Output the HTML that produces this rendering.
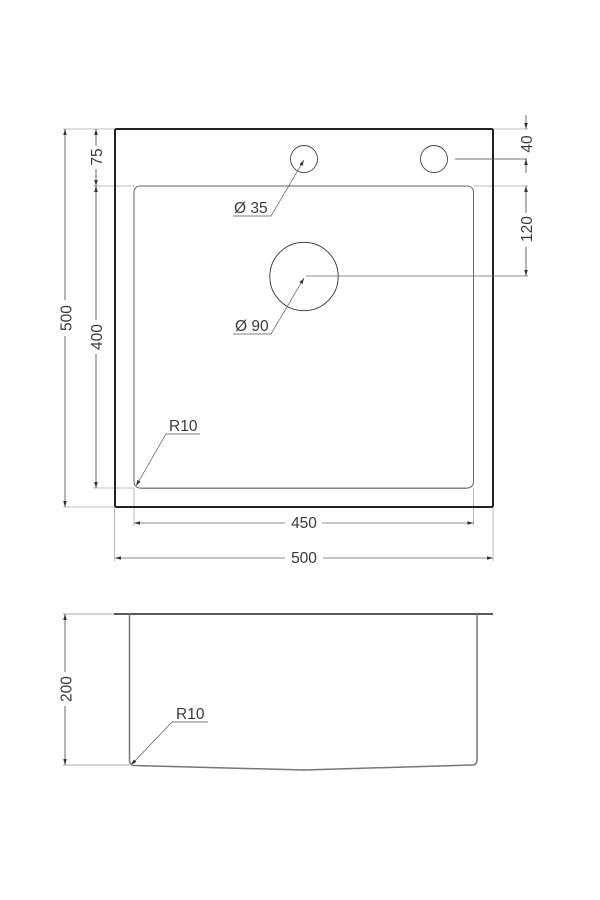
<!DOCTYPE html>
<html>
<head>
<meta charset="utf-8">
<style>
html,body{margin:0;padding:0;background:#fff;width:600px;height:900px;overflow:hidden}
svg{display:block}
text{font-family:"Liberation Sans",sans-serif;font-size:15.5px;fill:#3a3a3a}
</style>
</head>
<body>
<svg width="600" height="900" viewBox="0 0 600 900" xmlns="http://www.w3.org/2000/svg">
<rect width="600" height="900" fill="#fff"/>
<defs>
<marker id="a" viewBox="0 0 10 6" refX="10" refY="3" markerWidth="6" markerHeight="4" markerUnits="userSpaceOnUse" orient="auto-start-reverse"><path d="M0 0L10 3L0 6Z" fill="#333"/></marker>
</defs>

<!-- extension lines -->
<g fill="none" stroke="#aaa" stroke-width="0.8">
<path d="M63 129H115M63 507H115"/>
<path d="M93 186H134M473 186H528M93 488H134"/>
<path d="M493 129H528"/>
<path d="M134 488V526M473.5 488V526M114.500 507V561M493 507V561"/>
<path d="M63 614H114M63 765H130" stroke-width="1.2" stroke="#bbb"/>
</g>

<!-- top view -->
<rect x="115" y="129" width="378" height="378" rx="1.500" fill="none" stroke="#222" stroke-width="2"/>
<rect x="134" y="186" width="339.500" height="302" rx="6" fill="none" stroke="#666" stroke-width="1"/>
<path d="M140 488.300H467" fill="none" stroke="#888" stroke-width="1.400"/>
<circle cx="304" cy="159" r="13.500" fill="none" stroke="#444" stroke-width="0.900"/>
<circle cx="434" cy="159" r="13.500" fill="none" stroke="#444" stroke-width="0.900"/>
<circle cx="304" cy="276.500" r="34.200" fill="none" stroke="#333" stroke-width="0.900"/>

<!-- vertical dimensions -->
<g fill="none" stroke="#444" stroke-width="0.800">
<path d="M65 300V129" marker-end="url(#a)"/>
<path d="M65 336V507" marker-end="url(#a)"/>
<path d="M96 146V129" marker-end="url(#a)"/>
<path d="M96 169V186" marker-end="url(#a)"/>
<path d="M96 320V186" marker-end="url(#a)"/>
<path d="M96 354V488" marker-end="url(#a)"/>
<path d="M526 115V129" marker-end="url(#a)"/>
<path d="M526 173V159" marker-end="url(#a)"/>
<path d="M455 159H527"/>
<path d="M526 213V186" marker-end="url(#a)"/>
<path d="M526 247V276" marker-end="url(#a)"/>
<path d="M306 276H528" stroke="#666"/>
<path d="M65 614V672" marker-start="url(#a)"/>
<path d="M65 706V765" marker-end="url(#a)"/>
</g>

<!-- horizontal dimensions -->
<g fill="none" stroke="#666" stroke-width="0.800">
<path d="M285 523H134" marker-end="url(#a)"/>
<path d="M322 523H473.500" marker-end="url(#a)"/>
<path d="M285 558H115" marker-end="url(#a)"/>
<path d="M323 558H493" marker-end="url(#a)"/>
</g>

<!-- leaders -->
<g fill="none" stroke="#555" stroke-width="0.700">
<path d="M233 216H271L304 160" marker-end="url(#a)"/>
<path d="M233 334H271L304 278" marker-end="url(#a)"/>
<path d="M200 434H166L136 486" marker-end="url(#a)"/>
<path d="M208 722H172L131 765" marker-end="url(#a)"/>
</g>

<!-- side view -->
<path d="M114 614H493" fill="none" stroke="#222" stroke-width="1.500"/>
<path d="M129.500 614V760Q129.500 765 134 765.500L304 770L472 765Q477 765 477 760V614" fill="none" stroke="#777" stroke-width="1.500"/>

<!-- labels -->
<text x="234" y="213">Ø 35</text>
<text x="235" y="331">Ø 90</text>
<text x="169" y="431">R10</text>
<text x="176" y="719">R10</text>
<text x="304" y="528" text-anchor="middle">450</text>
<text x="304" y="563" text-anchor="middle">500</text>
<text transform="translate(71.500 318) rotate(-90)" text-anchor="middle">500</text>
<text transform="translate(102 337) rotate(-90)" text-anchor="middle">400</text>
<text transform="translate(102 157) rotate(-90)" text-anchor="middle">75</text>
<text transform="translate(71.500 689) rotate(-90)" text-anchor="middle">200</text>
<text transform="translate(532 144) rotate(-90)" text-anchor="middle">40</text>
<text transform="translate(532 229) rotate(-90)" text-anchor="middle">120</text>
</svg>
</body>
</html>
